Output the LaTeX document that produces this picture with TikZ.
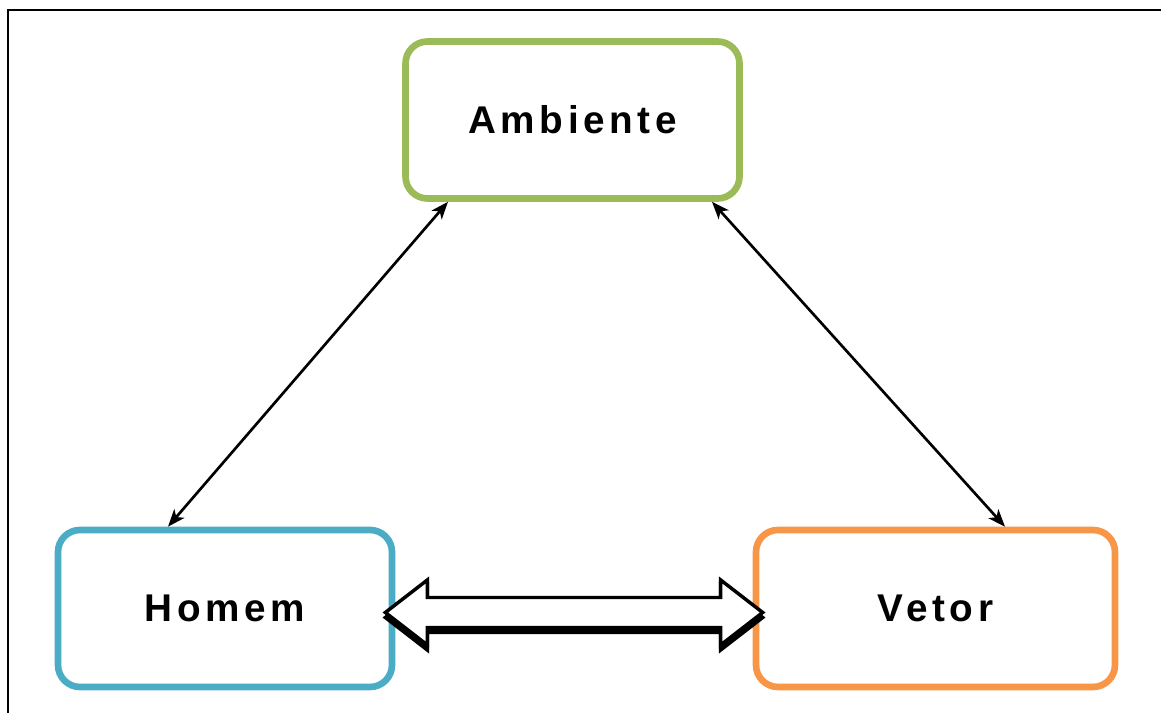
\documentclass[tikz,border=0pt]{standalone}
\usepackage{fontspec}
\newfontfamily\rotulo{Liberation Sans}[LetterSpace=12]
\usetikzlibrary{arrows.meta}
\definecolor{verde}{HTML}{9BBB59}
\definecolor{azul}{HTML}{4BACC6}
\definecolor{laranja}{HTML}{F79646}

\begin{document}
\begin{tikzpicture}[x=0.75pt, y=0.75pt,
  caixa/.style={draw, line width=5pt, rounded corners=16.5pt, fill=white,
    minimum width=250.5pt, minimum height=117.75pt,
    font=\rotulo\bfseries\fontsize{29}{35}\selectfont},
  fina/.style={{Stealth[length=13pt, width=10pt, inset=3.5pt]}-{Stealth[length=13pt, width=10pt, inset=3.5pt]}, line width=2pt},
  larga/.style={line width=2.6pt, line join=miter}]
\useasboundingbox (0,0) rectangle (1161,713);
\draw[line width=1.5pt] (8,0) |- (1161,703);

\node[caixa, draw=verde] (Ambiente) at (572.5,593) {Ambiente};
\node[caixa, draw=azul] (Homem) at (225,104.5) {Homem};
\node[caixa, draw=laranja, minimum width=269.25pt] (Vetor) at (935.5,104.5) {Vetor};

\draw[fina] ([shift={(-57,0)}]Homem.north) -- ([shift={(-124.5,0)}]Ambiente.south);
\draw[fina] ([shift={(139.5,0)}]Ambiente.south) -- ([shift={(69.5,0)}]Vetor.north);

% seta larga com sombra
\coordinate (dl) at ([shift={(-10,-4)}]Homem.east);
\coordinate (dr) at ([shift={(10,-4)}]Vetor.west);
\foreach \dy/\cor in {-3.75pt/black, 0pt/white}
  \draw[larga, fill=\cor, transform canvas={yshift=\dy}] (dl) -- ([shift={(42,32.5)}]dl) -- ([shift={(42,15)}]dl)
    -- ([shift={(-42,15)}]dr) -- ([shift={(-42,32.5)}]dr) -- (dr) -- ([shift={(-42,-32.5)}]dr)
    -- ([shift={(-42,-15)}]dr) -- ([shift={(42,-15)}]dl) -- ([shift={(42,-32.5)}]dl) -- cycle;
\end{tikzpicture}
\end{document}
